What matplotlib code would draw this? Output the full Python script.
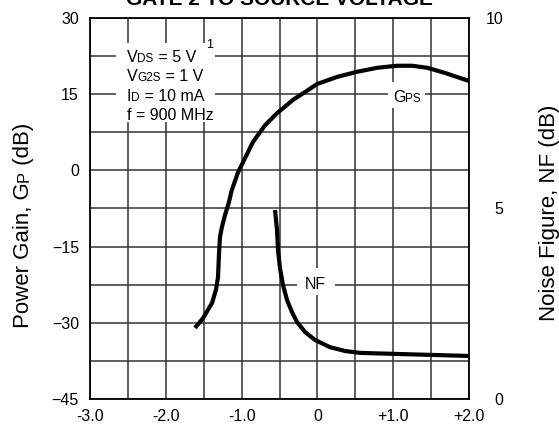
import numpy as np
import matplotlib
matplotlib.use("Agg")
import matplotlib.pyplot as plt
from matplotlib.ticker import MultipleLocator, FixedLocator
from matplotlib.patches import Rectangle
from matplotlib.transforms import offset_copy

plt.rcParams['font.family'] = ['Liberation Sans', 'DejaVu Sans']

# gate 2 to source voltage (V)
gain_vg2s = [-1.615, -1.509, -1.39, -1.338, -1.311, -1.298, -1.285, -1.259, -1.219, -1.166,
             -1.13, -1.05, -0.955, -0.85, -0.69, -0.53, -0.32, -0.125, -0.005, 0.26,
             0.52, 0.79, 1.05, 1.25, 1.45, 1.68, 2.0]
# power gain Gps (dB)
gain_db = [-31.0, -29.1, -26.1, -23.5, -21.0, -16.3, -13.1, -11.1, -8.8, -6.2,
           -3.9, -0.5, 2.4, 5.6, 8.9, 11.3, 13.9, 15.8, 17.0, 18.4,
           19.4, 20.2, 20.6, 20.6, 20.2, 19.2, 17.6]

# noise figure NF (dB)
nf_vg2s = [-0.559, -0.533, -0.520, -0.494, -0.454, -0.401, -0.335, -0.269, -0.164, -0.032,
           0.166, 0.364, 0.562, 1.09, 2.0]
nf_db = [4.96, 4.44, 3.91, 3.44, 2.99, 2.60, 2.28, 2.02, 1.76, 1.55,
         1.36, 1.26, 1.21, 1.18, 1.13]

x_ticks = [-3, -2, -1, 0, 1, 2]
x_labels = ["-3.0", "-2.0", "-1.0", "0", "+1.0", "+2.0"]
gain_ticks = [30, 15, 0, -15, -30, -45]
nf_ticks = [10, 5, 0]

fig = plt.figure(figsize=(5.59, 4.29), dpi=100)
W, H = 559, 429
ax = fig.add_axes([90 / W, 30 / H, 379 / W, 381 / H])

ax.set_xlim(-3, 2)
ax.set_ylim(-45, 30)
ax.xaxis.set_major_locator(FixedLocator(x_ticks))
ax.xaxis.set_minor_locator(MultipleLocator(0.5))
ax.set_xticklabels(x_labels)
ax.yaxis.set_major_locator(FixedLocator(gain_ticks))
ax.yaxis.set_minor_locator(MultipleLocator(7.5))
ax.tick_params(which="both", length=0, labelsize=11.5)
ax.tick_params(axis="x", pad=7)
ax.tick_params(axis="y", pad=8)
ax.grid(True, which="both", color="#333333", linewidth=1.1)
ax.set_axisbelow(True)
for s in ax.spines.values():
    s.set_linewidth(1.3)
    s.set_color("black")

ax2 = ax.twinx()
ax2.set_ylim(0, 10)
ax2.set_yticks(nf_ticks)
ax2.tick_params(length=0, labelsize=11.5, pad=24.5)
for lab in ax2.get_yticklabels():
    lab.set_horizontalalignment("right")
for s in ax2.spines.values():
    s.set_visible(False)

ax.plot(gain_vg2s, gain_db, color="black", linewidth=3, solid_capstyle="butt",
        solid_joinstyle="round", zorder=4)
ax2.plot(nf_vg2s, nf_db, color="black", linewidth=3, solid_capstyle="butt",
         solid_joinstyle="round", zorder=4)

# white label backgrounds breaking the grid
ax.add_patch(Rectangle((-2.657, 9.5), 1.307, 15.6, facecolor="white", edgecolor="none", zorder=2))
ax.add_patch(Rectangle((0.93, 12.3), 0.49, 5.1, facecolor="white", edgecolor="none", zorder=2))
ax.add_patch(Rectangle((-0.27, -24.5), 0.50, 5.3, facecolor="white", edgecolor="none", zorder=2))


def rich(x, y, parts, size, trans, rotation=0, center=False):
    # parts: (text, small) -> pieces laid out one after another
    texts = []
    for s, small in parts:
        t = fig.text(x, y, s, fontsize=size * (0.74 if small else 1.0), rotation=rotation,
                     rotation_mode="anchor", ha="left", va="baseline", transform=trans, zorder=6)
        texts.append(t)
    return (texts, x, y, trans, rotation, center)


groups = []
cond = [
    [("V", False), ("DS", True), (" = 5 V", False)],
    [("V", False), ("G2S", True), (" = 1 V", False)],
    [("I", False), ("D", True), (" = 10 mA", False)],
    [("f = 900 MHz", False)],
]
for i, line in enumerate(cond):
    groups.append(rich(-2.515, 21.4 - i * 3.85, line, 11.5, ax.transData))
groups.append(rich(1.18, 13.4, [("G", False), ("PS", True)], 11.5, ax.transData, center=True))
groups.append(rich(-0.03, -23.4, [("NF", False)], 11.5, ax.transData, center=True))
ax.text(-1.42, 24.7, "1", fontsize=9, ha="center", va="center", zorder=6)

groups.append(rich(29 / W, 1 - 225 / H, [("Power Gain, G", False), ("P", True), (" (dB)", False)],
                   16, fig.transFigure, rotation=90, center=True))
groups.append(rich(555 / W, 1 - 213 / H, [("Noise Figure, NF (dB)", False)],
                   16, fig.transFigure, rotation=90, center=True))

fig.text(279.5 / W, 1 - 5 / H, "GATE 2 TO SOURCE VOLTAGE", fontsize=15, fontweight="bold",
         ha="center", va="baseline")

fig.canvas.draw()
r = fig.canvas.get_renderer()
for texts, x, y, trans, rot, center in groups:
    sizes = []
    for t in texts:
        bb = t.get_window_extent(r)
        sizes.append(bb.height if rot == 90 else bb.width)
    start = -sum(sizes) / 2 if center else 0
    off = start
    for t, w in zip(texts, sizes):
        if rot == 90:
            t.set_transform(offset_copy(trans, fig=fig, x=0, y=off, units="dots"))
        else:
            t.set_transform(offset_copy(trans, fig=fig, x=off, y=0, units="dots"))
        off += w

fig.savefig("out.png", dpi=100)
